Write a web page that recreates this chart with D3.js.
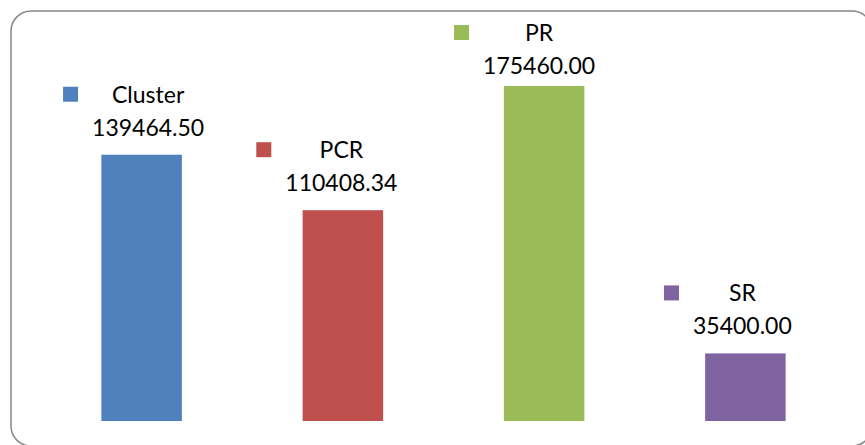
<!DOCTYPE html>
<html>
<head>
<meta charset="utf-8">
<script src="https://cdn.jsdelivr.net/npm/d3@7"></script>
<style>
  html, body { margin: 0; padding: 0; background: #fff; }
  svg { display: block; }
  text { font-family: Lato, "Open Sans", sans-serif; fill: #000; }
</style>
</head>
<body>
<div id="chart"></div>
<script>
// data
var categories = ["Cluster", "PCR", "PR", "SR"];
var values = [139464.50, 110408.34, 175460.00, 35400.00];
var colors = ["#4F81BD", "#C0504D", "#9BBB59", "#8064A2"];
// small horizontal nudge of each label block (layout only)
var labelShift = [6.5, -1.5, -5, -3];

var width = 865, height = 445;

var svg = d3.select("#chart").append("svg")
  .attr("width", width)
  .attr("height", height);

// chart area border (rounded, runs off right/bottom)
svg.append("rect")
  .attr("x", 11).attr("y", 11)
  .attr("width", 861).attr("height", 435)
  .attr("rx", 20).attr("ry", 20)
  .attr("fill", "#fff")
  .attr("stroke", "#868686")
  .attr("stroke-width", 1.5);

var x = d3.scaleBand()
  .domain(categories)
  .range([41, 846])
  .paddingInner(0.6)
  .paddingOuter(0.3);

var y = d3.scaleLinear()
  .domain([0, 175460])
  .range([421, 86]);

var rows = categories.map(function(c, i) {
  return { name: c, value: values[i], color: colors[i], shift: labelShift[i] };
});

svg.selectAll("rect.bar")
  .data(rows)
  .enter()
  .append("rect")
    .attr("class", "bar")
    .attr("x", function(d) { return x(d.name); })
    .attr("width", x.bandwidth())
    .attr("y", function(d) { return y(d.value); })
    .attr("height", function(d) { return y(0) - y(d.value); })
    .attr("fill", function(d) { return d.color; });

var fmt = d3.format(".2f");

var labels = svg.selectAll("g.lbl")
  .data(rows)
  .enter()
  .append("g")
    .attr("class", "lbl");

labels.each(function(d) {
  var g = d3.select(this);
  var cx = x(d.name) + x.bandwidth() / 2 + d.shift;
  var vy = Math.max(y(d.value) - 19, 74);   // keep top label inside the box
  var ny = vy - 33;

  var vt = g.append("text")
    .attr("x", cx).attr("y", vy)
    .attr("text-anchor", "middle")
    .attr("font-size", "23px")
    .text(fmt(d.value));

  g.append("text")
    .attr("x", cx).attr("y", ny)
    .attr("text-anchor", "middle")
    .attr("font-size", "23px")
    .text(d.name);

  var w = vt.node().getComputedTextLength();
  g.append("rect")
    .attr("x", cx - w / 2 - 29)
    .attr("y", ny - 16)
    .attr("width", 15).attr("height", 15)
    .attr("fill", d.color);
});
</script>
</body>
</html>
